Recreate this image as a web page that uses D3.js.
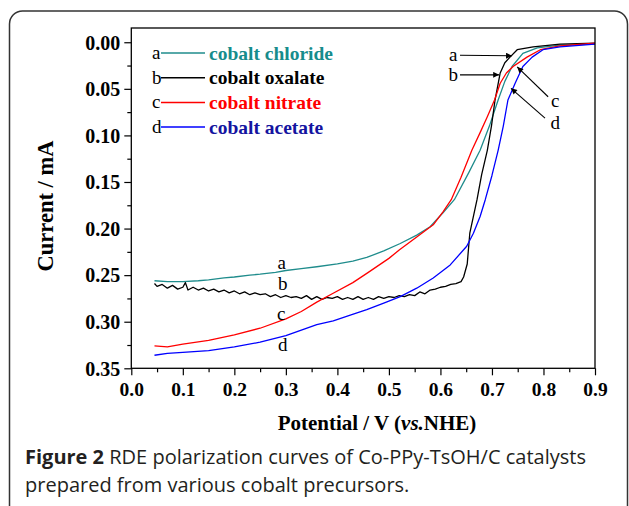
<!DOCTYPE html>
<html>
<head>
<meta charset="utf-8">
<script src="https://cdn.jsdelivr.net/npm/d3@7"></script>
<style>
  html, body { margin: 0; padding: 0; background: #fff; }
  svg { display: block; }
</style>
</head>
<body>
<svg id="chart" width="629" height="506"></svg>
<script>
// --- data (V vs. NHE, current in mA) ---
const seriesNames = ["cobalt chloride", "cobalt oxalate", "cobalt nitrate", "cobalt acetate"];
const seriesLetters = ["a", "b", "c", "d"];
const lineColors = ["#1f8c8c", "#000000", "#ff0000", "#0000ff"];
const textColors = ["#168c8c", "#000000", "#ff0000", "#1414a0"];

const chloride = [
  [0.045,0.256],[0.07,0.257],[0.10,0.257],[0.13,0.256],[0.15,0.255],[0.18,0.253],[0.20,0.252],
  [0.23,0.250],[0.25,0.249],[0.28,0.247],[0.30,0.245],[0.33,0.243],[0.36,0.241],[0.40,0.238],
  [0.43,0.235],[0.457,0.231],[0.49,0.224],[0.522,0.216],[0.554,0.207],[0.58,0.198],[0.605,0.183],
  [0.627,0.169],[0.655,0.140],[0.677,0.116],[0.695,0.090],[0.712,0.062],[0.725,0.042],[0.739,0.026],
  [0.760,0.012],[0.788,0.006],[0.832,0.003],[0.9,0.002]
];
const oxalate = [
  [0.045,0.259],[0.05,0.262],[0.06,0.260],[0.07,0.264],[0.08,0.261],[0.09,0.265],[0.10,0.263],
  [0.105,0.258],[0.11,0.266],[0.12,0.263],[0.13,0.266],[0.14,0.264],[0.15,0.267],[0.16,0.265],
  [0.17,0.268],[0.18,0.266],[0.19,0.269],[0.20,0.267],[0.21,0.270],[0.22,0.268],[0.23,0.271],
  [0.24,0.269],[0.25,0.271],[0.26,0.270],[0.27,0.273],[0.28,0.271],[0.29,0.274],[0.30,0.272],
  [0.31,0.274],[0.32,0.273],[0.33,0.275],[0.34,0.272],[0.35,0.276],[0.36,0.273],[0.37,0.276],
  [0.38,0.274],[0.39,0.275],[0.40,0.273],[0.41,0.276],[0.42,0.274],[0.43,0.276],[0.44,0.273],
  [0.45,0.276],[0.46,0.274],[0.47,0.276],[0.48,0.273],[0.49,0.275],[0.50,0.273],[0.51,0.274],
  [0.52,0.272],[0.53,0.273],[0.54,0.271],[0.55,0.272],[0.56,0.268],[0.57,0.270],[0.58,0.266],
  [0.59,0.265],[0.60,0.263],[0.61,0.262],[0.62,0.260],[0.63,0.259],[0.64,0.257],[0.645,0.252],
  [0.652,0.238],[0.657,0.205],[0.664,0.187],[0.671,0.169],[0.68,0.142],[0.691,0.116],[0.699,0.090],
  [0.706,0.062],[0.716,0.033],[0.725,0.022],[0.735,0.016],[0.749,0.008],[0.78,0.005],[0.832,0.002],
  [0.9,0.001]
];
const nitrate = [
  [0.045,0.326],[0.07,0.327],[0.10,0.324],[0.15,0.320],[0.20,0.314],[0.25,0.307],[0.30,0.297],
  [0.33,0.289],[0.36,0.279],[0.39,0.270],[0.43,0.258],[0.46,0.247],[0.50,0.232],[0.52,0.223],
  [0.554,0.209],[0.586,0.196],[0.605,0.182],[0.621,0.169],[0.64,0.145],[0.661,0.116],[0.677,0.097],
  [0.691,0.080],[0.705,0.062],[0.716,0.044],[0.728,0.033],[0.741,0.026],[0.768,0.016],[0.794,0.008],
  [0.832,0.004],[0.9,0.001]
];
const acetate = [
  [0.045,0.336],[0.07,0.334],[0.10,0.333],[0.15,0.331],[0.20,0.327],[0.25,0.322],[0.30,0.315],
  [0.33,0.309],[0.36,0.303],[0.392,0.299],[0.425,0.293],[0.457,0.287],[0.49,0.280],[0.522,0.273],
  [0.554,0.264],[0.586,0.253],[0.619,0.239],[0.651,0.219],[0.664,0.205],[0.677,0.187],[0.687,0.169],
  [0.700,0.143],[0.712,0.116],[0.722,0.090],[0.731,0.062],[0.745,0.044],[0.760,0.026],[0.778,0.016],
  [0.799,0.008],[0.832,0.005],[0.9,0.002]
];
const allSeries = [chloride, oxalate, nitrate, acetate];

const xTicks = [0.0, 0.1, 0.2, 0.3, 0.4, 0.5, 0.6, 0.7, 0.8, 0.9];
const xMinor = [0.05, 0.15, 0.25, 0.35, 0.45, 0.55, 0.65, 0.75, 0.85];
const yTicks = [0.00, 0.05, 0.10, 0.15, 0.20, 0.25, 0.30, 0.35];
const yMinor = [0.025, 0.075, 0.125, 0.175, 0.225, 0.275, 0.325];

// callouts: letter, position [V, mA] of letter, arrow tip [V, mA]
const callouts = [
  { t: "a", at: [0.625, 0.0135], tip: [0.739, 0.0145] },
  { t: "b", at: [0.625, 0.0350], tip: [0.714, 0.0350] },
  { t: "c", at: [0.823, 0.0635], tip: [0.749, 0.0265] },
  { t: "d", at: [0.823, 0.0870], tip: [0.737, 0.0495] }
];
const callTails = [[0.638, 0.0140], [0.638, 0.0350], [0.809, 0.0585], [0.803, 0.0815]];
const inlineLabels = [
  { t: "a", at: [0.292, 0.2375] },
  { t: "b", at: [0.294, 0.2600] },
  { t: "c", at: [0.291, 0.2915] },
  { t: "d", at: [0.294, 0.3255] }
];

const serif = "'Liberation Serif', 'Times New Roman', serif";
const svg = d3.select("#chart");

// frame
svg.append("rect")
  .attr("x", 9.5).attr("y", 11).attr("width", 618).attr("height", 530)
  .attr("rx", 13).attr("fill", "none").attr("stroke", "#333").attr("stroke-width", 1.5);

const plotL = 131.3, plotR = 595, plotT = 28, plotB = 368.3;
const x = d3.scaleLinear().domain([0, 0.9]).range([plotL, plotR]);
const y = d3.scaleLinear().domain([-0.0153, 0.35]).range([plotT, plotB]);

const defs = svg.append("defs");
defs.append("clipPath").attr("id", "plot")
  .append("rect").attr("x", plotL).attr("y", plotT).attr("width", plotR - plotL).attr("height", plotB - plotT);
defs.append("marker").attr("id", "arrow")
  .attr("viewBox", "0 0 10 10").attr("refX", 10).attr("refY", 5)
  .attr("markerWidth", 7).attr("markerHeight", 6).attr("markerUnits", "userSpaceOnUse")
  .attr("orient", "auto")
  .append("path").attr("d", "M0,0L10,5L0,10z").attr("fill", "#000");

// curves
const line = d3.line().x(d => x(d[0])).y(d => y(d[1]));
svg.append("g").attr("clip-path", "url(#plot)")
  .selectAll("path").data(allSeries).join("path")
  .attr("d", line)
  .attr("fill", "none")
  .attr("stroke", (d, i) => lineColors[i])
  .attr("stroke-width", 1.3)
  .attr("stroke-linejoin", "round");

// axes
function styleAxis(g) {
  g.select(".domain").remove();
  g.selectAll("line").attr("stroke", "#000").attr("stroke-width", 1.2);
}
svg.append("g").attr("transform", `translate(0,${plotB})`)
  .call(d3.axisBottom(x).tickValues(xMinor).tickSize(4).tickFormat(""))
  .call(styleAxis);
svg.append("g").attr("transform", `translate(0,${plotB})`)
  .call(d3.axisBottom(x).tickValues(xTicks).tickSize(7).tickFormat(d3.format(".1f")))
  .call(styleAxis)
  .call(g => g.selectAll("text")
    .attr("y", 28).attr("dy", 0)
    .attr("font-family", serif).attr("font-weight", "bold").attr("font-size", 19.5).attr("fill", "#000"));
svg.append("g").attr("transform", `translate(${plotL},0)`)
  .call(d3.axisLeft(y).tickValues(yMinor).tickSize(4).tickFormat(""))
  .call(styleAxis);
svg.append("g").attr("transform", `translate(${plotL},0)`)
  .call(d3.axisLeft(y).tickValues(yTicks).tickSize(7).tickPadding(4).tickFormat(d3.format(".2f")))
  .call(styleAxis)
  .call(g => g.selectAll("text")
    .attr("dy", "0.34em")
    .attr("font-family", serif).attr("font-weight", "bold").attr("font-size", 20).attr("fill", "#000"));

// plot box
svg.append("rect")
  .attr("x", plotL).attr("y", plotT).attr("width", plotR - plotL).attr("height", plotB - plotT)
  .attr("fill", "none").attr("stroke", "#000").attr("stroke-width", 1.3);

// axis titles
svg.append("text")
  .attr("transform", "translate(53,206) rotate(-90)")
  .attr("text-anchor", "middle")
  .attr("font-family", serif).attr("font-weight", "bold").attr("font-size", 22.5)
  .text("Current / mA");
const xt = svg.append("text")
  .attr("x", 377).attr("y", 430).attr("text-anchor", "middle")
  .attr("font-family", serif).attr("font-weight", "bold").attr("font-size", 21);
xt.append("tspan").text("Potential / V (");
xt.append("tspan").attr("font-style", "italic").text("vs.");
xt.append("tspan").text("NHE)");

// legend
const legend = svg.append("g");
seriesNames.forEach((name, i) => {
  const ly = 53 + i * 24.7;
  legend.append("text").attr("x", 152).attr("y", ly + 6)
    .attr("font-family", serif).attr("font-size", 19).text(seriesLetters[i]);
  legend.append("line").attr("x1", 161).attr("x2", 205).attr("y1", ly).attr("y2", ly)
    .attr("stroke", lineColors[i]).attr("stroke-width", 1.5);
  legend.append("text").attr("x", 209).attr("y", ly + 6.5)
    .attr("font-family", serif).attr("font-weight", "bold").attr("font-size", 19.5)
    .attr("fill", textColors[i]).text(name);
});

// callouts with arrows
callouts.forEach((c, i) => {
  svg.append("line")
    .attr("x1", x(callTails[i][0])).attr("y1", y(callTails[i][1]))
    .attr("x2", x(c.tip[0])).attr("y2", y(c.tip[1]))
    .attr("stroke", "#000").attr("stroke-width", 1.1)
    .attr("marker-end", "url(#arrow)");
  svg.append("text").attr("x", x(c.at[0])).attr("y", y(c.at[1]) + 6)
    .attr("text-anchor", "middle")
    .attr("font-family", serif).attr("font-size", 19).text(c.t);
});
inlineLabels.forEach(c => {
  svg.append("text").attr("x", x(c.at[0])).attr("y", y(c.at[1]) + 6)
    .attr("text-anchor", "middle")
    .attr("font-family", serif).attr("font-size", 19).text(c.t);
});

// caption: set at the figure's size, then squeezed horizontally to the text block width
const sans = "'Open Sans', 'Noto Sans', sans-serif";
const cap1 = svg.append("text")
  .attr("font-family", sans).attr("font-size", 20).attr("fill", "#231f20");
cap1.append("tspan").attr("font-weight", "bold").text("Figure 2");
cap1.append("tspan").text(" RDE polarization curves of Co-PPy-TsOH/C catalysts");
const cap2 = svg.append("text")
  .attr("font-family", sans).attr("font-size", 20).attr("fill", "#231f20")
  .text("prepared from various cobalt precursors.");
const sx = 561 / cap1.node().getComputedTextLength();
cap1.attr("transform", `translate(25,464) scale(${sx},1)`);
cap2.attr("transform", `translate(25,492) scale(${sx},1)`);
</script>
</body>
</html>
